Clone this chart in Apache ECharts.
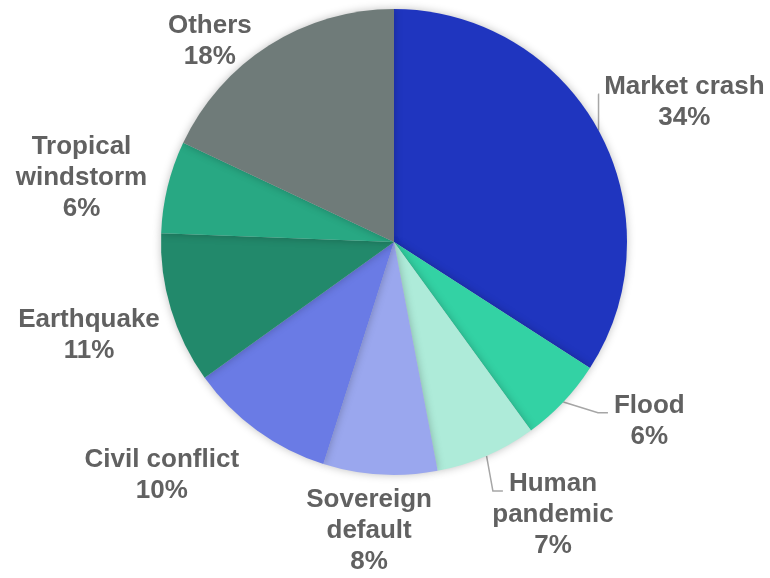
<!DOCTYPE html>
<html><head><meta charset="utf-8">
<script src="https://cdn.jsdelivr.net/npm/echarts@6/dist/echarts.min.js"></script>
<style>html,body{margin:0;padding:0;background:#fff}#c{width:770px;height:578px}</style>
</head><body><div id="c"></div>
<script>
const categories = ['Market crash','Flood','Human\npandemic','Sovereign\ndefault','Civil conflict','Earthquake','Tropical\nwindstorm','Others'];
const values = [34.1, 5.9, 7.0, 7.9, 10.2, 10.5, 6.4, 18.0];
const colors = ['#1f35bf','#33d2a4','#aeebd9','#9aa7ee','#6a7be5','#22896b','#28a883','#6f7b79'];
// label placement (polar nudge from slice mid-angle, degrees; distance of label centre from pie centre, px)
const labelAngleNudge = [3.0, -8.3, -6.8, 1.5, 8.9, -0.3, -2.1, -10.2];
const labelDist = [322, 312, 316, 290, 329, 319, 319, 272];
const withLeader = [true, true, true, false, false, false, false, false];

const CX = 394, CY = 242, R = 233, FS = 26, LH = 31;
const FONT = 'bold ' + FS + 'px "Liberation Sans", Arial, sans-serif';
const total = values.reduce((a,b)=>a+b,0);
const midAngles = [];
let acc = 0;
values.forEach(v => { midAngles.push((acc + v/2) / total * 360); acc += v; });
const ctx = document.createElement('canvas').getContext('2d');
ctx.font = FONT;
const pctText = i => Math.round(values[i] / total * 100) + '%';

const chart = echarts.init(document.getElementById('c'), null, {renderer:'canvas'});
chart.setOption({
  backgroundColor: '#fff',
  animation: false,
  series: [{
    type: 'pie',
    center: [CX, CY],
    radius: [0, R],
    startAngle: 90,
    clockwise: true,
    avoidLabelOverlap: false,
    itemStyle: { shadowBlur: 8, shadowColor: 'rgba(0,0,0,0.25)' },
    label: {
      show: true, position: 'outside',
      formatter: p => p.name + '\n' + pctText(p.dataIndex),
      color: '#616161', fontSize: FS, fontWeight: 'bold',
      fontFamily: '"Liberation Sans", Arial, sans-serif',
      lineHeight: LH, align: 'center'
    },
    labelLine: { lineStyle: { color: '#a6a6a6', width: 1.5 }, length: 10, length2: 10 },
    emphasis: { disabled: true },
    labelLayout: function (p) {
      const i = p.dataIndex;
      const a = (midAngles[i] + labelAngleNudge[i]) * Math.PI / 180;
      const x = CX + labelDist[i] * Math.sin(a);
      const y = CY - labelDist[i] * Math.cos(a);
      const out = { x: x, y: y, align: 'center', verticalAlign: 'middle' };
      if (withLeader[i]) {
        const lines = (categories[i] + '\n' + pctText(i)).split('\n');
        const h = lines.length * LH;
        const w0 = ctx.measureText(lines[0]).width;
        const endX = x - w0 / 2 - 6;
        const endY = y - h / 2 + LH / 2 + 7;
        const ma = midAngles[i] * Math.PI / 180;
        const ex = CX + R * Math.sin(ma), ey = CY - R * Math.cos(ma);
        const elbowX = Math.max(ex, endX - 10);
        out.labelLinePoints = [[ex, ey], [elbowX, endY], [endX, endY]];
      }
      return out;
    },
    data: categories.map((c, i) => ({
      name: c, value: values[i],
      itemStyle: { color: colors[i] },
      labelLine: { show: withLeader[i] }
    }))
  }]
});
</script></body></html>
